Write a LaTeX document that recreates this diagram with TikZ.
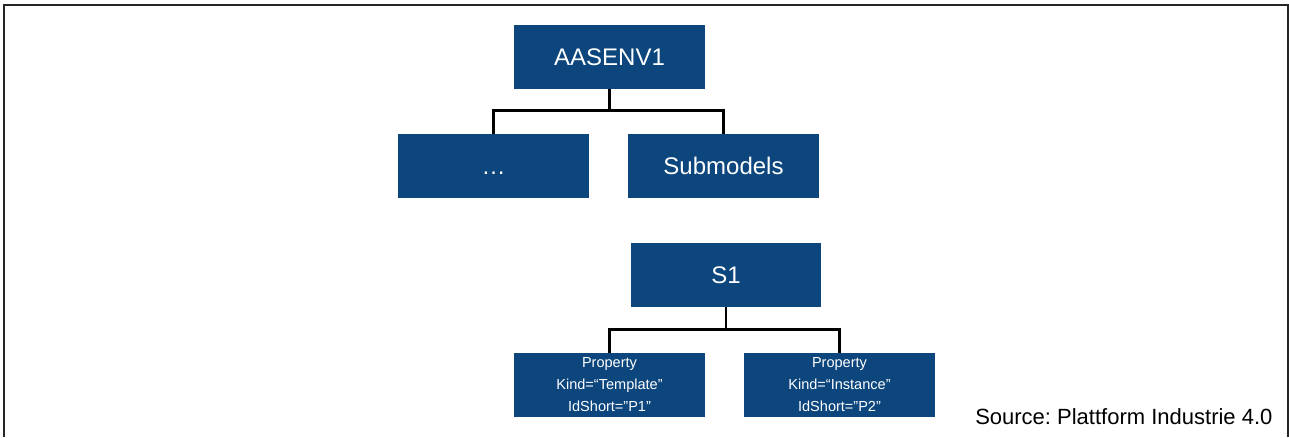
\documentclass[tikz,border=0pt]{standalone}
\usepackage{fontspec}
\setmainfont{Liberation Sans}
\usepackage{tikz}
\usetikzlibrary{positioning}
\definecolor{aasblue}{RGB}{12, 70, 125}
\frenchspacing

\begin{document}
\begin{tikzpicture}[x=0.75pt, y=-0.75pt,
    box/.style={fill=aasblue, text=white, inner sep=0pt,
                minimum width=143pt, minimum height=48pt,
                font=\fontsize{18}{21}\selectfont},
    propbox/.style={box, align=center, font=\fontsize{10.9}{16.5}\selectfont},
    link/.style={draw=black, line width=2pt}]
        \useasboundingbox (0,0) rectangle (1289,437);
        % frame
        \draw[line width=1.5pt, black!85] (4,437) -- (4,5) -- (1288,5) -- (1288,437);

        % AAS ENVIRONMENT
        \node[box] (env) at (609.5,57) {AASENV1};
        \node[box, text height=13pt, text depth=0pt] (dots) at (493.5,166) {…};
        \node[box] (subm) at (723.5,166) {Submodels};
        \draw[link] (env.south) -- ++(0,21) -| (dots.north);
        \draw[link] (env.south) -- ++(0,21) -| (subm.north);

        % SUBMODEL S1
        \node[box] (sub1) at (726,275) {S1};
        \node[propbox] (prop1) at (609.5,385) {Property\\Kind=“Template”\\IdShort=”P1”};
        \node[propbox] (prop2) at (839.5,385) {Property\\Kind=“Instance”\\IdShort=”P2”};
        \draw[link] (sub1.south) -- ++(0,22) -| (prop1.north);
        \draw[link] (sub1.south) -- ++(0,22) -| (prop2.north);

        % SOURCE
        \node[anchor=base west, inner sep=0pt, font=\fontsize{16.5}{19}\selectfont]
              (src) at (975,424) {Source: Plattform Industrie 4.0};
      \end{tikzpicture}
\end{document}
